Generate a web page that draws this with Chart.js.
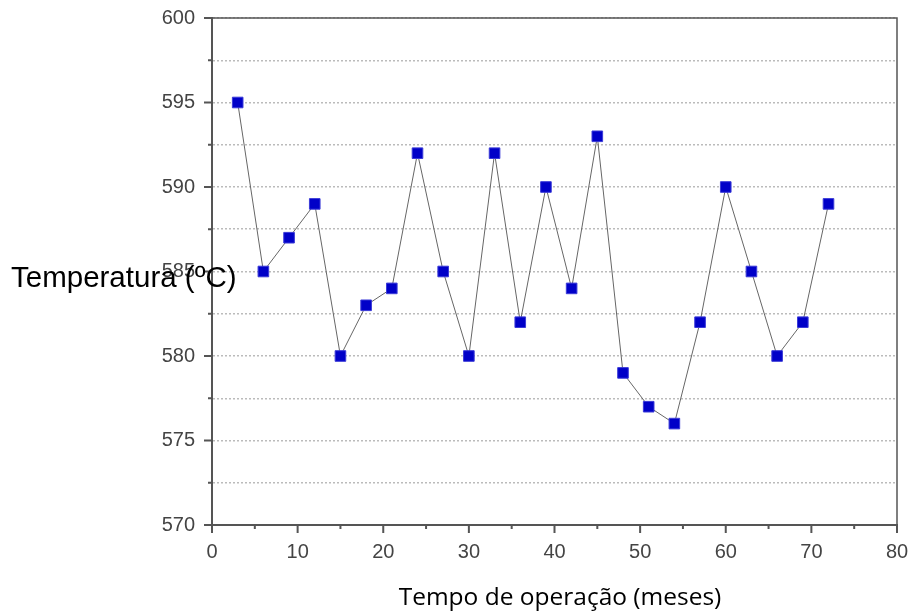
<!DOCTYPE html>
<html>
<head>
<meta charset="utf-8">
<script src="https://cdn.jsdelivr.net/npm/chart.js@4.4.0/dist/chart.umd.min.js"></script>
<style>
  html, body { margin: 0; padding: 0; background: #fff; }
  #wrap { position: relative; width: 910px; height: 615px; }
</style>
</head>
<body>
<div id="wrap"><canvas id="tempChart" width="910" height="615"></canvas></div>
<script>
// meses de operação e temperatura
const meses = [3, 6, 9, 12, 15, 18, 21, 24, 27, 30, 33, 36, 39, 42, 45, 48, 51, 54, 57, 60, 63, 66, 69, 72];
const temperaturas = [595, 585, 587, 589, 580, 583, 584, 592, 585, 580, 592, 582, 590, 584, 593, 579, 577, 576, 582, 590, 585, 580, 582, 589];

const xMin = 0, xMax = 80, xStep = 5, xLabelStep = 10;
const yMin = 570, yMax = 600, yStep = 2.5, yLabelStep = 5;

const tituloY = 'Temperatura (ºC)';
const tituloX = 'Tempo de operação (meses)';

const pontos = meses.map((m, i) => ({ x: m, y: temperaturas[i] }));

// moldura, marcas maiores/menores e títulos dos eixos
const extras = {
    id: 'extras',
    afterDraw(chart) {
        const { ctx, chartArea: a, scales } = chart;
        ctx.save();
        ctx.strokeStyle = '#555';
        ctx.lineWidth = 1.5;
        ctx.beginPath();
        ctx.moveTo(a.left, a.top);
        ctx.lineTo(a.right, a.top);
        ctx.lineTo(a.right, a.bottom);
        ctx.stroke();

        ctx.lineWidth = 2;
        ctx.beginPath();
        scales.x.ticks.forEach(t => {
            const px = scales.x.getPixelForValue(t.value);
            const len = t.value % xLabelStep === 0 ? 8 : 4;
            ctx.moveTo(px, a.bottom);
            ctx.lineTo(px, a.bottom + len);
        });
        scales.y.ticks.forEach(t => {
            const py = scales.y.getPixelForValue(t.value);
            const len = t.value % yLabelStep === 0 ? 8 : 4;
            ctx.moveTo(a.left, py);
            ctx.lineTo(a.left - len, py);
        });
        ctx.stroke();

        ctx.fillStyle = '#000';
        ctx.textBaseline = 'middle';
        ctx.font = '29.5px "Liberation Sans", Arial, sans-serif';
        ctx.textAlign = 'left';
        ctx.fillText(tituloY, 11, 279);

        ctx.font = '24.5px "Open Sans", sans-serif';
        ctx.textAlign = 'center';
        ctx.fillText(tituloX, 560, 598);
        ctx.restore();
    }
};

const config = {
    type: 'scatter',
    data: {
        datasets: [{
            data: pontos,
            showLine: true,
            borderColor: '#666',
            borderWidth: 1,
            pointStyle: 'rect',
            pointRadius: 7.5,
            pointHoverRadius: 7.5,
            pointBackgroundColor: '#0000c8',
            pointBorderColor: '#3b3bd8',
            pointBorderWidth: 1
        }]
    },
    options: {
        responsive: false,
        animation: false,
        layout: { padding: { top: 18, right: 13, left: 0, bottom: 0 } },
        plugins: { legend: { display: false }, tooltip: { enabled: false } },
        scales: {
            x: {
                type: 'linear',
                min: xMin,
                max: xMax,
                afterFit(scale) {
                    scale.height = 90;
                    scale.paddingLeft = 0;
                    scale.paddingRight = 0;
                },
                ticks: {
                    stepSize: xStep,
                    autoSkip: false,
                    maxRotation: 0,
                    padding: 9,
                    color: '#444',
                    font: { family: '"Liberation Sans", Arial, sans-serif', size: 20 },
                    callback: v => (v % xLabelStep === 0 ? v : '')
                },
                grid: {
                    drawOnChartArea: false,
                    drawTicks: true,
                    tickLength: 6,
                    tickColor: 'rgba(0,0,0,0)'
                },
                border: { color: '#555', width: 2 }
            },
            y: {
                type: 'linear',
                min: yMin,
                max: yMax,
                afterFit(scale) {
                    scale.width = 212;
                    scale.paddingTop = 0;
                    scale.paddingBottom = 0;
                },
                ticks: {
                    stepSize: yStep,
                    autoSkip: false,
                    padding: 10,
                    color: '#444',
                    font: { family: '"Liberation Sans", Arial, sans-serif', size: 20 },
                    callback: v => (v % yLabelStep === 0 ? v : '')
                },
                grid: {
                    color: '#bbb',
                    lineWidth: 1.5,
                    tickLength: 7,
                    tickColor: 'rgba(0,0,0,0)',
                    tickBorderDash: []
                },
                border: { color: '#555', width: 2, dash: [2, 2] }
            }
        }
    },
    plugins: [extras]
};

window.onload = function () {
    const ctx = document.getElementById('tempChart').getContext('2d');
    new Chart(ctx, config);
};
</script>
</body>
</html>
